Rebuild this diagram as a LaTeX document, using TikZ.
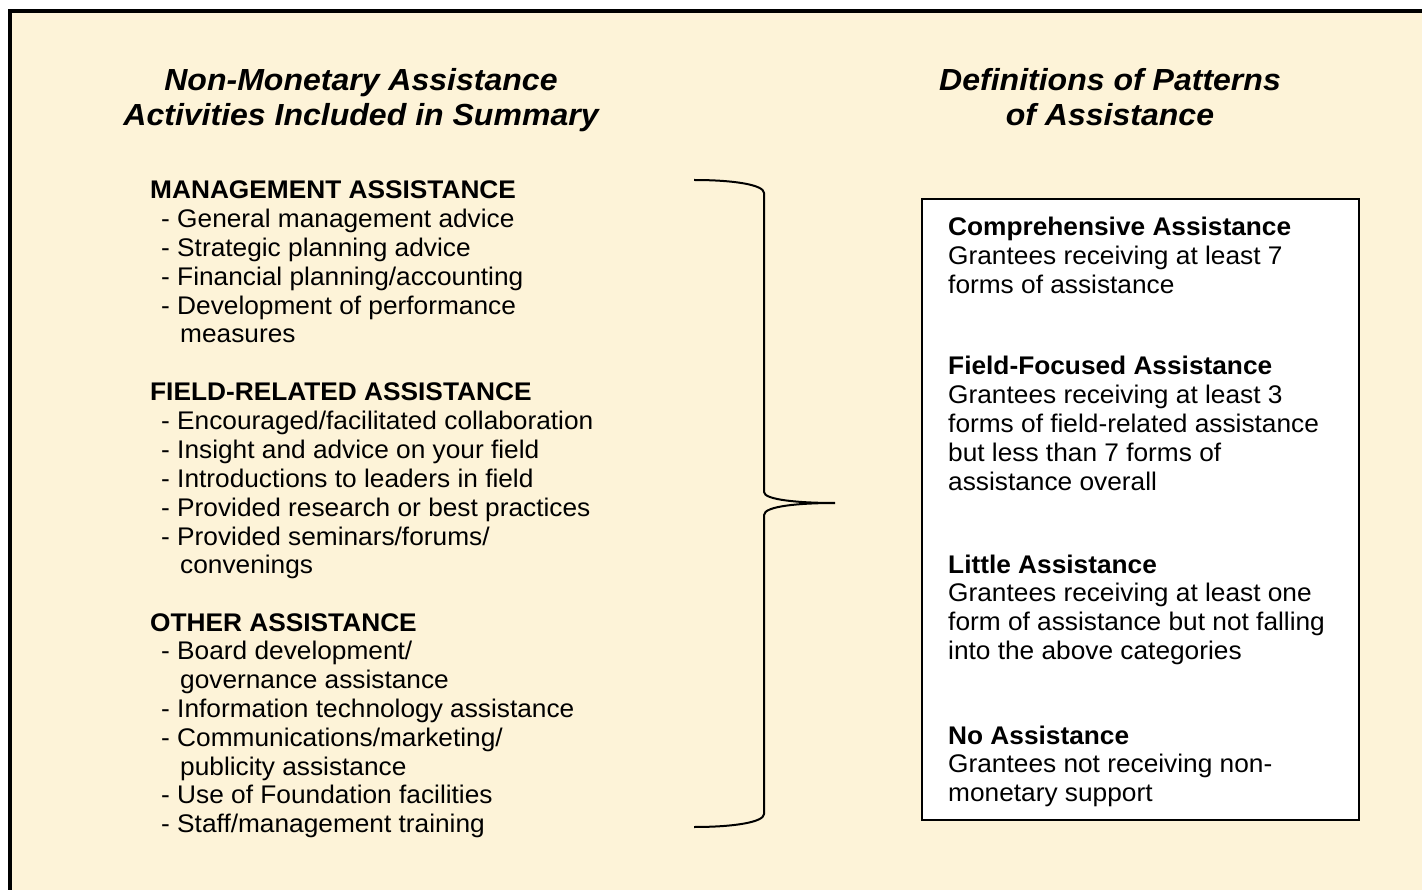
\documentclass[tikz,border=0pt]{standalone}
\usepackage{fontspec}
\setmainfont{Liberation Sans}[FakeStretch=1.03]
\newfontfamily\hfont{Liberation Sans}[FakeStretch=1.05]
\definecolor{cream}{RGB}{253,243,216}
\begin{document}
\begin{tikzpicture}[x=1pt,y=-1pt,
  body/.style={font=\fontsize{25.5}{28.8}\selectfont, inner sep=0pt, anchor=base west},
  hdr/.style={body, font=\fontsize{25.5}{28.8}\selectfont\bfseries},
  ttl/.style={font=\hfont\fontsize{30.5}{35}\selectfont\bfseries\itshape, inner sep=0pt, anchor=base},
  frame/.style={line width=4pt},
  brace/.style={line width=2pt},
  defbox/.style={draw, line width=2pt, fill=white}]
\useasboundingbox (0,0) rectangle (1422,890);
\fill[cream] (10,11) rectangle (1430,900);
\draw[frame] (10,900) -- (10,11) -- (1430,11);

% titles
\node[ttl] (t1) at (361,91) {Non-Monetary Assistance};
\node[ttl] (t2) at (361,126) {Activities Included in Summary};
\node[ttl] (t3) at (1110,91) {Definitions of Patterns};
\node[ttl] (t4) at (1110,126) {of Assistance};

% left list
\node[hdr] (m0) at (150,199) {MANAGEMENT ASSISTANCE};
\node[body] (m1) at (161,227.8) {- General management advice};
\node[body] (m2) at (161,256.6) {- Strategic planning advice};
\node[body] (m3) at (161,285.4) {- Financial planning/accounting};
\node[body] (m4) at (161,314.2) {- Development of performance};
\node[body] (m5) at (180,343) {measures};

\node[hdr] (f0) at (150,401) {FIELD-RELATED ASSISTANCE};
\node[body] (f1) at (161,429.8) {- Encouraged/facilitated collaboration};
\node[body] (f2) at (161,458.6) {- Insight and advice on your field};
\node[body] (f3) at (161,487.4) {- Introductions to leaders in field};
\node[body] (f4) at (161,516.2) {- Provided research or best practices};
\node[body] (f5) at (161,545) {- Provided seminars/forums/};
\node[body] (f6) at (180,573.8) {convenings};

\node[hdr] (o0) at (150,631) {OTHER ASSISTANCE};
\node[body] (o1) at (161,659.8) {- Board development/};
\node[body] (o2) at (180,688.6) {governance assistance};
\node[body] (o3) at (161,717.4) {- Information technology assistance};
\node[body] (o4) at (161,746.2) {- Communications/marketing/};
\node[body] (o5) at (180,775) {publicity assistance};
\node[body] (o6) at (161,803.8) {- Use of Foundation facilities};
\node[body] (o7) at (161,832.6) {- Staff/management training};

% brace
\coordinate (bt) at (694,180);
\coordinate (bb) at (694,827);
\coordinate (bp) at (835,503);
\draw[brace] (bt) .. controls (735,180) and (764,185) .. (764,193) -- (764,492)
  .. controls (764,500) and (800,503) .. (bp)
  .. controls (800,503) and (764,506) .. (764,515) -- (764,814)
  .. controls (764,822) and (735,827) .. (bb);

% definitions box
\node[defbox, minimum width=437pt, minimum height=621pt, anchor=north west] (box) at (921,198) {};

\node[hdr] (c0) at (948,236) {Comprehensive Assistance};
\node[body] (c1) at (948,264.8) {Grantees receiving at least 7};
\node[body] (c2) at (948,293.6) {forms of assistance};

\node[hdr] (d0) at (948,375) {Field-Focused Assistance};
\node[body] (d1) at (948,403.8) {Grantees receiving at least 3};
\node[body] (d2) at (948,432.6) {forms of field-related assistance};
\node[body] (d3) at (948,461.4) {but less than 7 forms of};
\node[body] (d4) at (948,490.2) {assistance overall};

\node[hdr] (l0) at (948,573) {Little Assistance};
\node[body] (l1) at (948,601.8) {Grantees receiving at least one};
\node[body] (l2) at (948,630.6) {form of assistance but not falling};
\node[body] (l3) at (948,659.4) {into the above categories};

\node[hdr] (n0) at (948,744) {No Assistance};
\node[body] (n1) at (948,772.8) {Grantees not receiving non-};
\node[body] (n2) at (948,801.6) {monetary support};
\end{tikzpicture}
\end{document}
